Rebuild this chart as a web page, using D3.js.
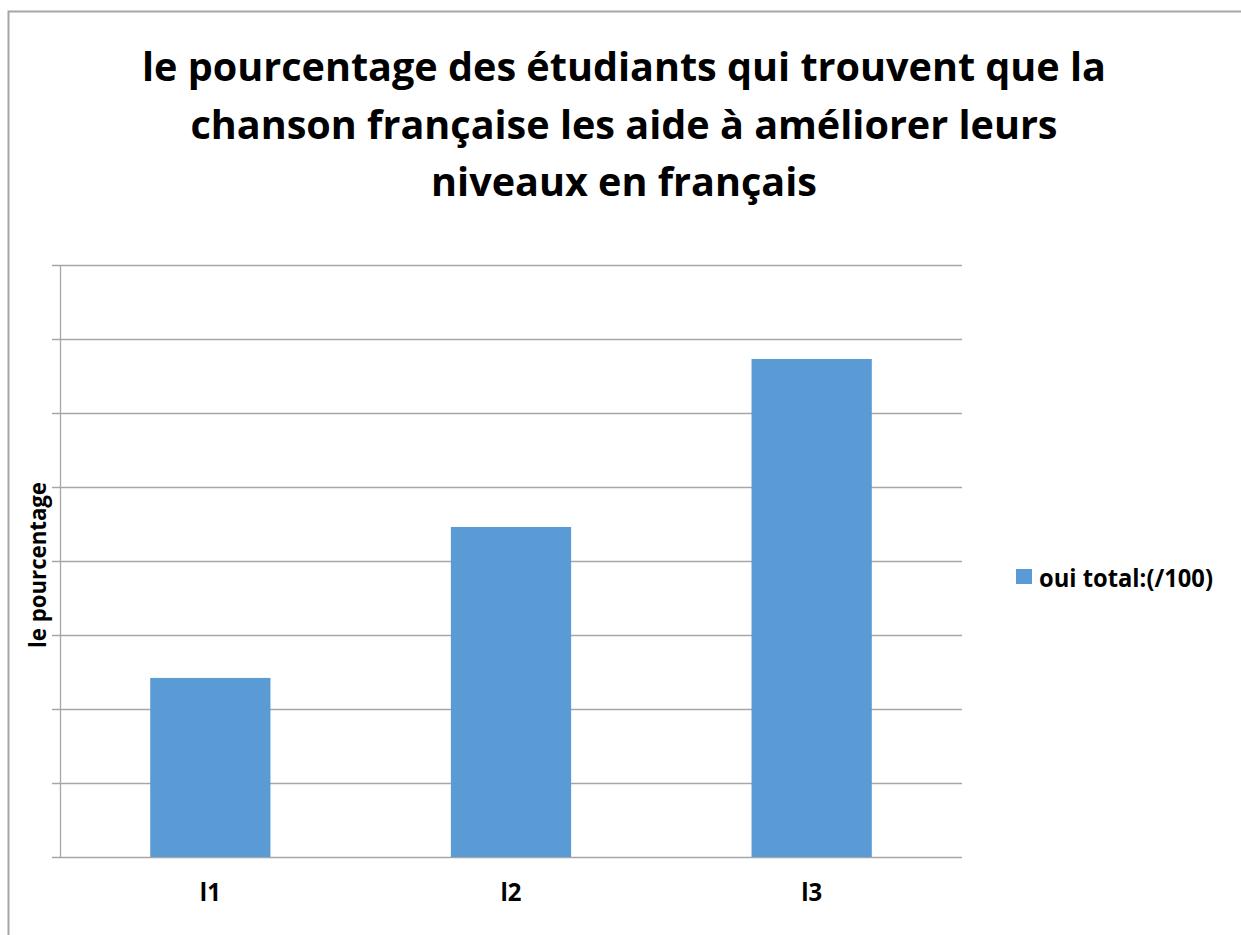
<!DOCTYPE html>
<html>
<head>
<meta charset="utf-8">
<script src="https://cdn.jsdelivr.net/npm/d3@7"></script>
<style>
	body { margin: 0; background: #fff; }
	text { font-family: "Open Sans", Lato, sans-serif; font-weight: bold; fill: #000; }
</style>
</head>
<body>
<div id="chart"></div>
<script>
// chart data
var categories = ['l1', 'l2', 'l3'];
var ouiValues = [24.2, 44.6, 67.3];
var seriesName = 'oui total:(/100)';
var titleLines = [
	'le pourcentage des étudiants qui trouvent que la',
	'chanson française les aide à améliorer leurs',
	'niveaux en français'
];
var yLabel = 'le pourcentage';
var yMax = 80;
var yTickCount = 8;

var W = 1241, H = 935;
var margin = {left: 60, top: 265, right: 279, bottom: 78};
var plotW = W - margin.left - margin.right,
	plotH = H - margin.top - margin.bottom;
var barColor = '#5b9bd5',
	lineColor = '#a6a6a6';

var svg = d3.select('#chart')
	.append('svg')
	.attr('width', W)
	.attr('height', H);

// chart area border (runs off the right / bottom of the picture)
svg.append('rect')
	.attr('x', 8.5)
	.attr('y', 11.5)
	.attr('width', W + 50)
	.attr('height', H + 50)
	.attr('fill', '#fff')
	.attr('stroke', lineColor)
	.attr('stroke-width', 2);

// squeeze a text node horizontally (narrow, Calibri-like look)
function squeeze(sel, ratio){
	var w = sel.node().getComputedTextLength();
	sel.attr('textLength', w * ratio)
		.attr('lengthAdjust', 'spacingAndGlyphs');
}
function fitWidth(sel, targetW){
	var w = sel.node().getComputedTextLength();
	squeeze(sel, targetW / w);
	return targetW / w;
}

// title
var titleSize = 40;
var title = svg.append('g').attr('class', 'title');
var tl = title.selectAll('text')
	.data(titleLines).enter()
	.append('text')
	.attr('x', 624)
	.attr('y', function(d, i){ return 81 + i * 57.5; })
	.attr('text-anchor', 'middle')
	.style('font-size', titleSize + 'px')
	.text(function(d){ return d; });
var ratio = fitWidth(d3.select(tl.nodes()[0]), 964);
tl.filter(function(d, i){ return i > 0; })
	.each(function(){ squeeze(d3.select(this), ratio); });

var g = svg.append('g')
	.attr('transform', 'translate(' + margin.left + ',' + margin.top + ')');

var x = d3.scaleBand()
	.domain(categories)
	.range([0, plotW])
	.paddingInner(0.6)
	.paddingOuter(0.3);

var y = d3.scaleLinear()
	.domain([0, yMax])
	.range([plotH, 0]);

// gridlines with small outer ticks, no tick labels
var yAxis = g.append('g')
	.attr('class', 'y-axis')
	.call(d3.axisLeft(y)
		.ticks(yTickCount)
		.tickSizeInner(-plotW)
		.tickSizeOuter(0)
		.tickFormat(''));
yAxis.select('.domain').remove();
yAxis.selectAll('.tick line')
	.attr('x1', -8)
	.attr('stroke', lineColor)
	.attr('stroke-width', 1.3);

// vertical axis line
g.append('line')
	.attr('x1', 0.5).attr('x2', 0.5)
	.attr('y1', y(yMax)).attr('y2', y(0))
	.attr('stroke', lineColor)
	.attr('stroke-width', 1.3);

// bars
g.selectAll('rect.bar')
	.data(ouiValues).enter()
	.append('rect')
	.attr('class', 'bar')
	.attr('x', function(d, i){ return x(categories[i]); })
	.attr('width', x.bandwidth())
	.attr('y', function(d){ return y(d); })
	.attr('height', function(d){ return y(0) - y(d); })
	.attr('fill', barColor);

// category labels
var cats = g.selectAll('text.cat')
	.data(categories).enter()
	.append('text')
	.attr('class', 'cat')
	.attr('x', function(d){ return x(d) + x.bandwidth() / 2; })
	.attr('y', plotH + 44)
	.attr('text-anchor', 'middle')
	.style('font-size', '25px')
	.text(function(d){ return d; });
cats.each(function(){ fitWidth(d3.select(this), 21); });

// y axis title
var yl = svg.append('text')
	.attr('transform', 'translate(46,' + (margin.top + plotH / 2 + 4) + ') rotate(-90)')
	.attr('text-anchor', 'middle')
	.style('font-size', '23px')
	.text(yLabel);
fitWidth(yl, 166);

// legend
var legend = svg.append('g')
	.attr('class', 'legend')
	.attr('transform', 'translate(1016, 569)');
legend.append('rect')
	.attr('width', 16)
	.attr('height', 15)
	.attr('fill', barColor);
var lt = legend.append('text')
	.attr('x', 23)
	.attr('y', 18)
	.style('font-size', '25px')
	.text(seriesName);
fitWidth(lt, 174);
</script>
</body>
</html>
